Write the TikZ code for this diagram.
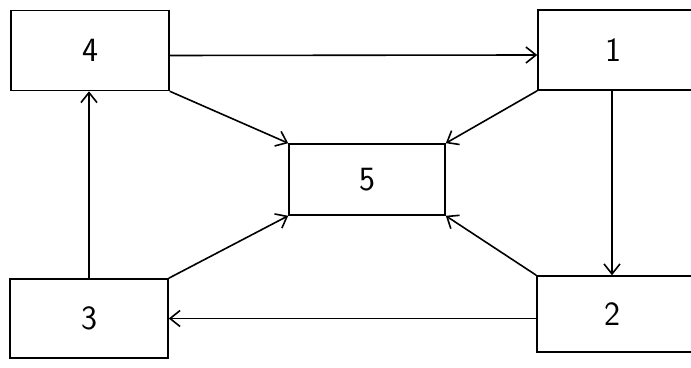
\documentclass[tikz,border=0pt]{standalone}
\usetikzlibrary{arrows.meta}

\begin{document}
\begin{tikzpicture}[
  x=0.5pt, y=-0.5pt,
  font=\fontsize{17}{19}\selectfont\sffamily,
  box/.style={draw, thick, fill=white, minimum width=79pt, minimum height=40pt,
              inner sep=0pt},
  openbox/.style={box, minimum width=90pt},
  arr/.style={-{Straight Barb[length=5pt, width=8pt]}, thick}
]

%% Frame (boxes 1 and 2 run past the right edge)
\useasboundingbox (0,0) rectangle (691,368);
\clip (0,0) rectangle (691,368);

%% Boxes
\node[box] (4) at (90,50.5) {4};
\node[openbox, label={[xshift=-7.5pt]center:1}] (1) at (628,50) {};
\node[box, minimum width=78pt, minimum height=35.5pt] (5) at (367,179.5) {5};
\node[box, minimum height=39.5pt] (3) at (89,318.5) {3};
\node[openbox, minimum height=38pt, label={[xshift=-7.5pt]center:2}] (2) at (627,314) {};

%% Outer loop
\draw[arr] ([yshift=-2.5pt]4.east) -- ([yshift=-2.5pt]1.west);
\draw[arr] ([xshift=-8pt]1.south) -- ([xshift=-8pt]1.south |- 2.north);
\draw[arr] (2.west |- 3.east) -- (3.east);
\draw[arr] (3.north) -- (3.north |- 4.south);

%% Into box 5
\draw[arr] (4.south east) -- (5.north west);
\draw[arr] (1.south west) -- (5.north east);
\draw[arr] (3.north east) -- (5.south west);
\draw[arr] (2.north west) -- (5.south east);

\end{tikzpicture}
\end{document}
